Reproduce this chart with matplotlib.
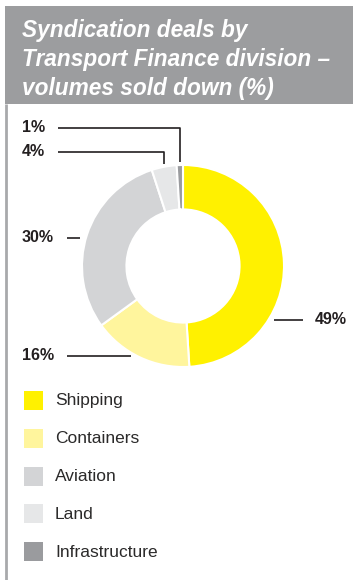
import numpy as np
import matplotlib.pyplot as plt
from matplotlib.patches import Rectangle

# volumes sold down by sector (%)
sectors = ['Shipping', 'Containers', 'Aviation', 'Land', 'Infrastructure']
shares = [49, 16, 30, 4, 1]
colors = ['#FFF100', '#FFF59D', '#D3D4D6', '#E6E7E8', '#9A9B9E']
title_lines = ['Syndication deals by', 'Transport Finance division –', 'volumes sold down (%)']

W, H = 357, 580
fig = plt.figure(figsize=(W / 100, H / 100), dpi=100)
ax = fig.add_axes([0, 0, 1, 1])

cx, cy, R = 183, H - 266, 101
hole = 0.44

wedges, _ = ax.pie(shares, colors=colors, startangle=90, counterclock=False,
                   radius=R, center=(cx, cy),
                   wedgeprops=dict(width=R * hole, edgecolor='white', linewidth=1.5))
ax.set_xlim(0, W)
ax.set_ylim(0, H)
ax.set_aspect('auto')
ax.axis('off')

font = ['Liberation Sans', 'DejaVu Sans']

# header band and left rule
ax.add_patch(Rectangle((5, H - 104), W - 9, 98, facecolor='#9C9D9F', edgecolor='none'))
ax.plot([6, 6], [0, H - 104], color='#A8A9AB', lw=2, solid_capstyle='butt')
for line, base in zip(title_lines, [37, 66, 95]):
    ax.text(22, H - base, line, ha='left', va='baseline', color='white', fontsize=16.3,
            fontweight='bold', fontstyle='italic', family=font)

# mid angle of each wedge
mids = [np.deg2rad((w.theta1 + w.theta2) / 2) for w in wedges]
lab_font = dict(fontsize=11.5, fontweight='bold', family=font, color='#231F20', va='center')
line_kw = dict(color='#231F20', lw=1.2, solid_capstyle='butt')

# labels: (text x, text y, line start x, side)
label_pos = {
    'Shipping': (315, 320, 303, 'right'),
    'Containers': (22, 356, 67, 'left'),
    'Aviation': (22, 238, 67, 'left'),
    'Land': (22, 152, 58, 'elbow'),
    'Infrastructure': (22, 128, 58, 'elbow'),
}
gap = 6
for name, val, a in zip(sectors, shares, mids):
    tx, ty, lx, kind = label_pos[name]
    ax.text(tx, H - ty, f'{val}%', ha='left', **lab_font)
    if kind == 'elbow':
        ex = cx + R * np.cos(a)
        ey = cy + (R + 3) * np.sin(a)
        ax.plot([lx, ex, ex], [H - ty, H - ty, ey], **line_kw)
    else:
        dy = (H - ty) - cy
        dx = np.sqrt(max(R ** 2 - dy ** 2, 0))
        if kind == 'right':
            ax.plot([cx + dx + gap, lx], [H - ty, H - ty], **line_kw)
        else:
            ax.plot([lx, cx - dx - gap], [H - ty, H - ty], **line_kw)

# legend
for i, (name, c) in enumerate(zip(sectors, colors)):
    top = 391 + i * 37.8
    ax.add_patch(Rectangle((24, H - top - 19), 19, 19, facecolor=c, edgecolor='none'))
    ax.text(55, H - top - 10, name, ha='left', va='center', fontsize=12.5,
            family=font, color='#2B2A2A')

fig.savefig('out.png', dpi=100)
